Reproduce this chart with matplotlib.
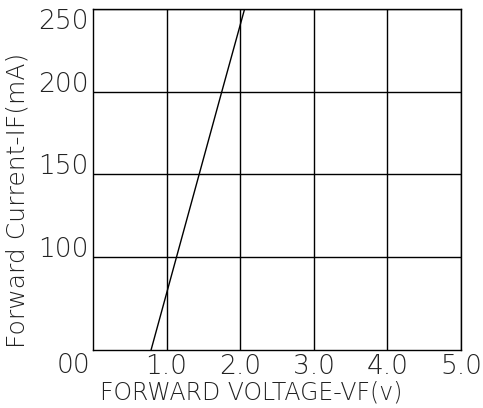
import matplotlib
matplotlib.use("Agg")
import matplotlib.pyplot as plt

# forward voltage vs forward current
vf = [0.79, 1.75, 2.06]
i_f = [44, 200, 250]

x_ticks = [1, 2, 3, 4, 5]
x_labels = ["1.0", "2.0", "3.0", "4.0", "5.0"]
y_ticks = [100, 150, 200, 250]
y_labels = ["100", "150", "200", "250"]

fig = plt.figure(figsize=(4.83, 4.08), dpi=100)
ax = fig.add_axes([0.1925, 0.142, 0.762, 0.836])

ax.plot(vf, i_f, color="black", lw=1.0)

ax.set_xlim(0, 5)
ax.set_ylim(43.8, 250)
ax.set_xticks(x_ticks)
ax.set_xticklabels(x_labels, fontsize=19, fontweight="light")
ax.set_yticks(y_ticks)
ax.set_yticklabels(y_labels, fontsize=19, fontweight="light")
ax.tick_params(length=0, colors="#222222")
ax.tick_params(axis="x", pad=3)
ax.tick_params(axis="y", pad=3)
for lab in ax.get_yticklabels():
    lab.set_va("baseline")
ax.get_yticklabels()[-1].set_va("top")

ax.grid(True, color="black", lw=1.0)
for s in ax.spines.values():
    s.set_linewidth(1.0)

# "00" sits under the y labels at the corner
ax.text(-0.054, -0.01, "00", transform=ax.transAxes, ha="center", va="top",
        fontsize=19, fontweight="light", color="#222222")

ax.set_xlabel("FORWARD VOLTAGE-VF(v)", fontsize=17, fontweight="light",
              labelpad=1, x=0.43, color="#222222")
fig.text(0.036, 0.51, "Forward Current-IF(mA)", rotation=90, ha="center",
         va="center", fontsize=18, fontweight="light", color="#222222")

fig.savefig("out.png", dpi=100)
